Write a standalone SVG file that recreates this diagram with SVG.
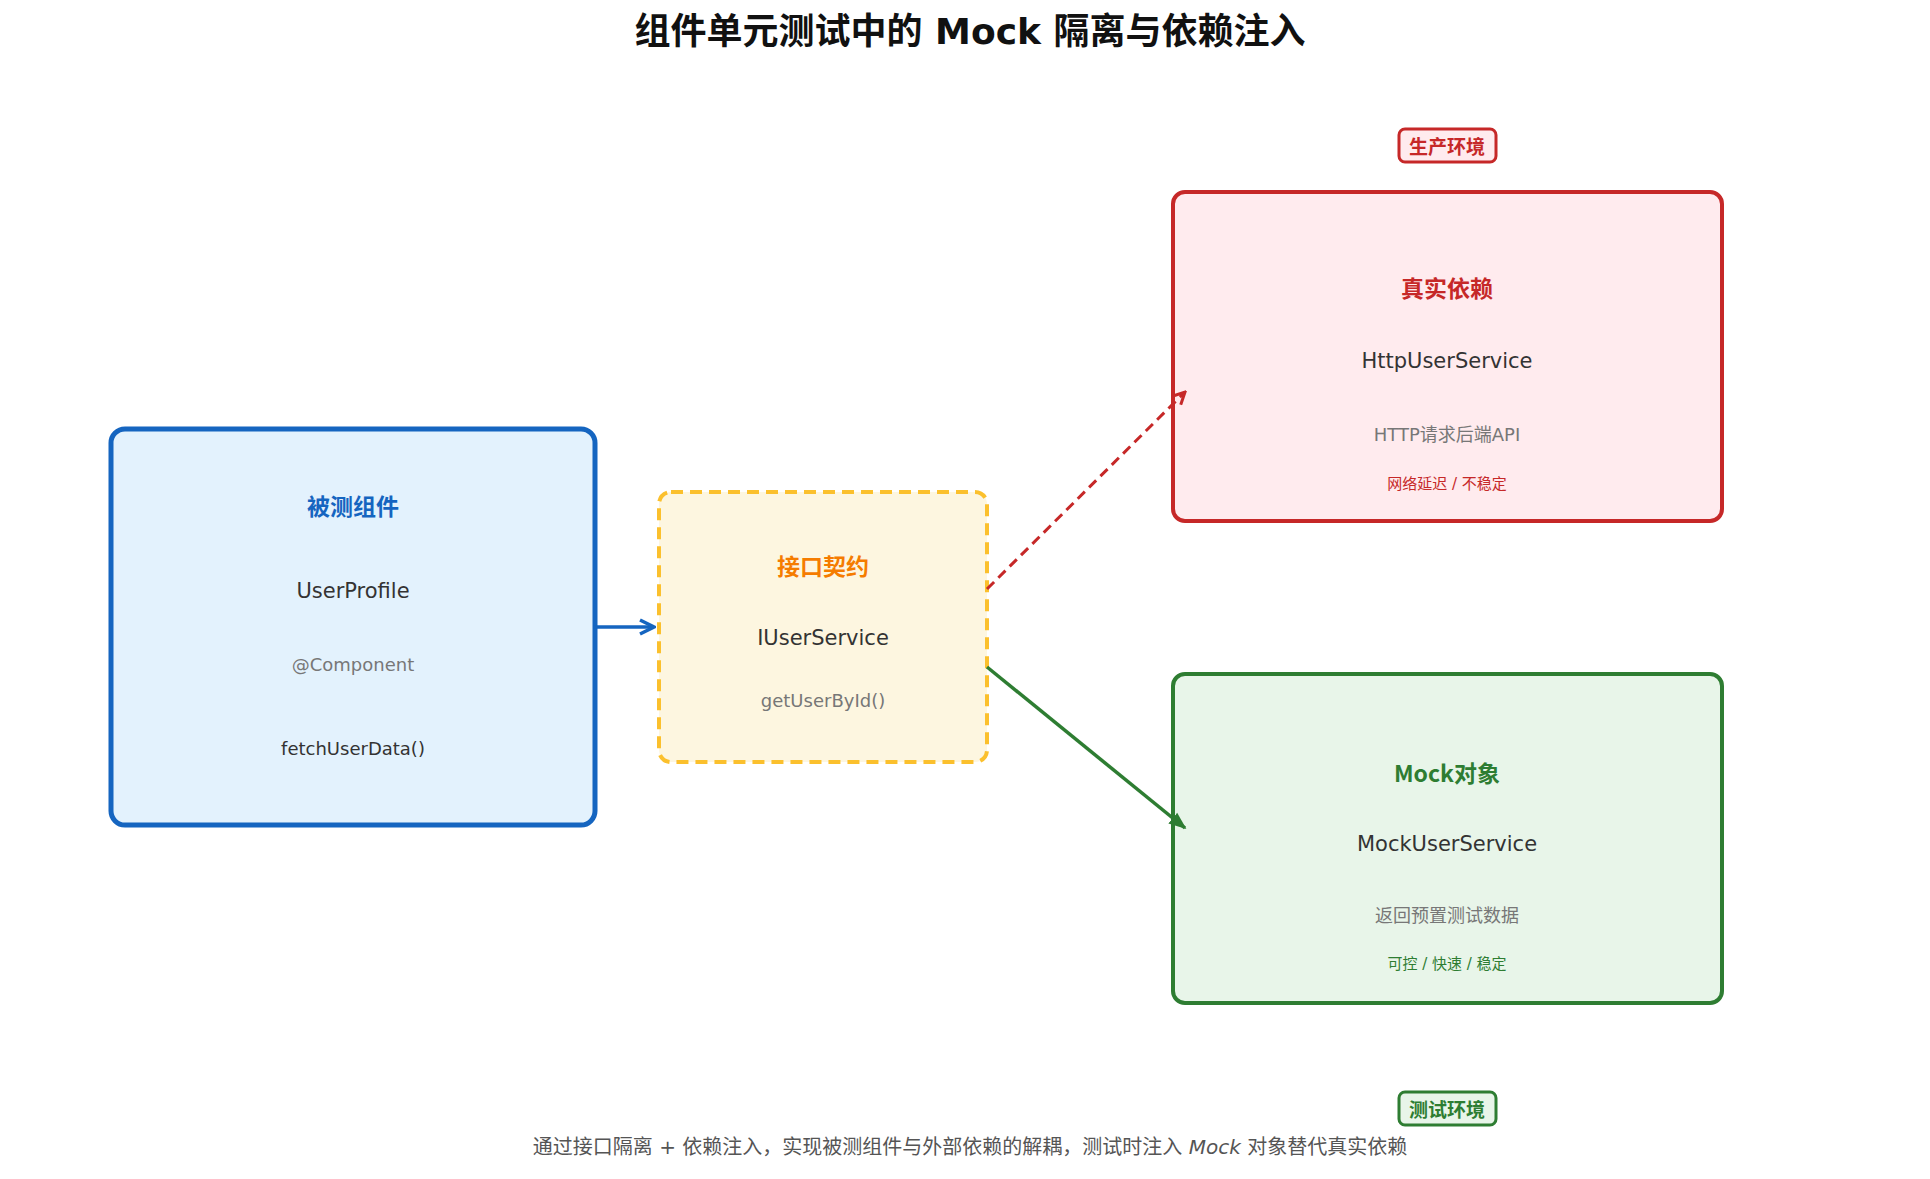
<svg xmlns="http://www.w3.org/2000/svg" width="1930" height="1179" viewBox="0 0 1930 1179">
<style>
text{font-family:"DejaVu Sans","Noto Sans CJK SC",sans-serif;text-anchor:middle;dominant-baseline:central}
.h{font-family:"Noto Sans CJK SC",sans-serif;font-weight:bold;font-size:23px}
.m{font-size:21px;fill:#333}
.s{font-size:18px;fill:#777}
.t{font-size:15px}
</style>
<defs>
<marker id="ab" viewBox="0 0 10 10" refX="9" refY="5" markerWidth="5" markerHeight="5" orient="auto"><path d="M1,1 L9,5 L1,9" fill="none" stroke="#1565c0" stroke-width="2"/></marker>
<marker id="ar" viewBox="0 0 10 10" refX="9" refY="5" markerWidth="5" markerHeight="5" orient="auto"><path d="M1,1 L9,5 L1,9" fill="none" stroke="#c62828" stroke-width="2"/></marker>
<marker id="ag" viewBox="0 0 10 10" refX="9" refY="5" markerWidth="5" markerHeight="5" orient="auto"><path d="M0,1 L10,5 L0,9z" fill="#2e7d32"/></marker>
</defs>
<rect width="1930" height="1179" fill="#fff"/>
<text x="970" y="31" style="font-size:36px;font-weight:bold;fill:#111">组件单元测试中的 Mock 隔离与依赖注入</text>
<g id="component">
<rect x="111" y="429" width="484" height="396" rx="14" fill="#e3f2fd" stroke="#1565c0" stroke-width="5"/>
<text class="h" x="353" y="505" fill="#1565c0">被测组件</text>
<text class="m" x="353" y="591">UserProfile</text>
<text class="s" x="353" y="664">@Component</text>
<text x="353" y="748" style="font-size:18px;fill:#333">fetchUserData()</text>
</g>
<g id="interface">
<rect x="659" y="492" width="328" height="270" rx="12" fill="#fdf6e0" stroke="#fbc02d" stroke-width="4" stroke-dasharray="12,7"/>
<text class="h" x="823" y="565" fill="#f57c00">接口契约</text>
<text class="m" x="823" y="638">IUserService</text>
<text class="s" x="823" y="700">getUserById()</text>
</g>
<g id="real">
<rect x="1173" y="192" width="549" height="329" rx="12" fill="#ffebee" stroke="#c62828" stroke-width="4"/>
<text class="h" x="1447" y="287" fill="#c62828">真实依赖</text>
<text class="m" x="1447" y="361">HttpUserService</text>
<text class="s" x="1447" y="434">HTTP请求后端API</text>
<text class="t" x="1447" y="484" fill="#c62828">网络延迟 / 不稳定</text>
</g>
<g id="mock">
<rect x="1173" y="674" width="549" height="329" rx="12" fill="#e8f5e9" stroke="#2e7d32" stroke-width="4"/>
<text class="h" x="1447" y="772" fill="#2e7d32">Mock对象</text>
<text class="m" x="1447" y="844">MockUserService</text>
<text class="s" x="1447" y="915">返回预置测试数据</text>
<text class="t" x="1447" y="964" fill="#2e7d32">可控 / 快速 / 稳定</text>
</g>
<g id="prodLabel">
<rect x="1399" y="129" width="97" height="33" rx="6" fill="#ffebee" stroke="#c62828" stroke-width="3"/>
<text x="1447" y="145" style="font-family:'Noto Sans CJK SC',sans-serif;font-weight:bold;font-size:19px;fill:#c62828">生产环境</text>
</g>
<g id="testLabel">
<rect x="1399" y="1092" width="97" height="33" rx="6" fill="#e8f5e9" stroke="#2e7d32" stroke-width="3"/>
<text x="1447" y="1108" style="font-family:'Noto Sans CJK SC',sans-serif;font-weight:bold;font-size:19px;fill:#2e7d32">测试环境</text>
</g>
<g id="connectors" fill="none" stroke-width="3.5">
<line x1="593" y1="627" x2="654" y2="627" stroke="#1565c0" marker-end="url(#ab)"/>
<line x1="987" y1="589" x2="1185" y2="392" stroke="#c62828" stroke-width="3" stroke-dasharray="10,6" marker-end="url(#ar)"/>
<line x1="987" y1="667" x2="1185" y2="828" stroke="#2e7d32" marker-end="url(#ag)"/>
</g>
<text x="970" y="1147" style="font-size:20px;fill:#555">通过接口隔离 + 依赖注入，实现被测组件与外部依赖的解耦，测试时注入 <tspan font-style="italic">Mock</tspan> 对象替代真实依赖</text>
</svg>
